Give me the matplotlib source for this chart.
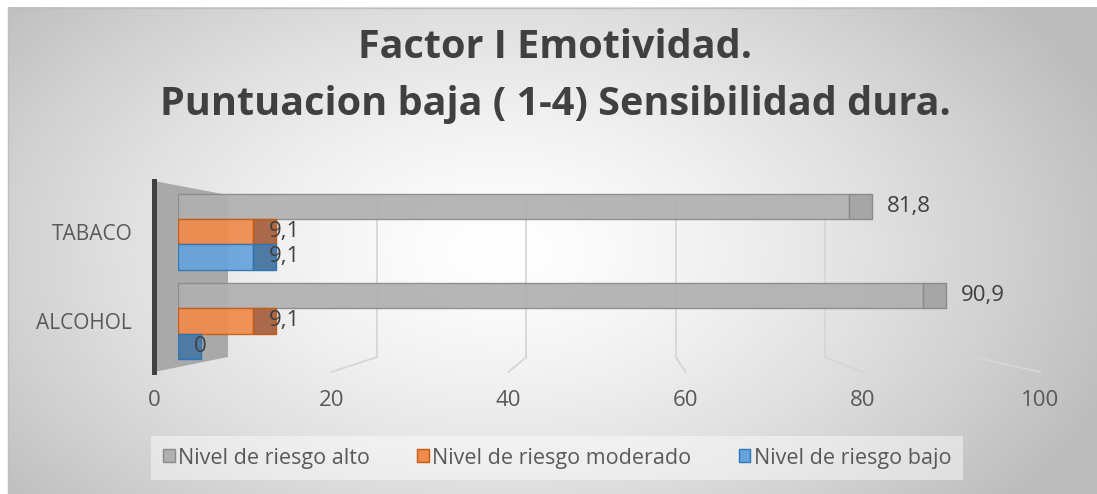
import numpy as np
import matplotlib.pyplot as plt
from matplotlib.patches import Patch, Polygon, Rectangle

categories = ["ALCOHOL", "TABACO"]
series_names = ["Nivel de riesgo alto", "Nivel de riesgo moderado", "Nivel de riesgo bajo"]
alto = [90.9, 81.8]
moderado = [9.1, 9.1]
bajo = [0.0, 9.1]
x_ticks = [0, 20, 40, 60, 80, 100]

plt.rcParams['font.family'] = ['Open Sans', 'DejaVu Sans']

W, H = 1097, 494
fig = plt.figure(figsize=(W / 100, H / 100), dpi=100)
fig.patch.set_facecolor('white')


def box(x0, y0, x1, y1):
    # pixel box (from top-left) -> figure fraction rect
    return [x0 / W, 1 - y1 / H, (x1 - x0) / W, (y1 - y0) / H]


# radial gradient background of the chart area
bg = fig.add_axes([0, 0, 1, 1], zorder=0)
yy, xx = np.mgrid[0:H, 0:W]
r = np.sqrt(((xx - 500) / 620) ** 2 + ((yy - 250) / 380) ** 2)
shade = 255 - 62 * np.clip(r, 0, 1.05) ** 1.4
shade[(xx < 8) | (yy < 8)] = 255
img = np.dstack([shade] * 3) / 255
bg.imshow(img, extent=(0, W, H, 0), aspect='auto', interpolation='bilinear')
bg.add_patch(Rectangle((8, 8), W, H, fill=False, edgecolor='#bfbfbf', lw=1))
bg.set_xlim(0, W)
bg.set_ylim(H, 0)
bg.axis('off')

# back wall (gridlines)
ax_back = fig.add_axes(box(228, 195, 974, 357), zorder=1)
ax_back.set_xlim(0, 100)
ax_back.set_ylim(0, 1)
ax_back.axis('off')
for v in x_ticks[1:]:
    ax_back.axvline(v, color='#d6d6d6', lw=1.3)

# front floor edge with tick labels and the dark axis line
ax_front = fig.add_axes(box(154, 181, 1040, 372), zorder=2)
ax_front.set_xlim(0, 100)
ax_front.set_ylim(0, 1)
ax_front.patch.set_alpha(0)
for s in ['top', 'right', 'bottom']:
    ax_front.spines[s].set_visible(False)
ax_front.spines['left'].set_linewidth(3.6)
ax_front.spines['left'].set_color('#404040')
ax_front.set_xticks(x_ticks)
ax_front.set_yticks([])
ax_front.tick_params(axis='x', length=0, pad=13, labelsize=16, labelcolor='#595959')


def to_front(pts):
    return ax_front.transData.inverted().transform(ax_back.transData.transform(pts))


back_top, back_bot = to_front([(0, 1), (0, 0)])
wall = Polygon([(0, 1), back_top, back_bot, (0, 0)], closed=True,
               facecolor='#a9a9a9', edgecolor='none', clip_on=False)
ax_front.add_patch(wall)
for v in x_ticks[1:]:
    p = to_front([(v, 0)])[0]
    ax_front.plot([p[0], v], [p[1], 0], color='#d6d6d6', lw=1.3, clip_on=False)

# bars
ax_bar = fig.add_axes(box(178, 180, 998, 372), zorder=3)
ax_bar.set_xlim(0, 100)
ax_bar.set_ylim(-0.573, 1.584)
ax_bar.patch.set_alpha(0)
for s in ax_bar.spines.values():
    s.set_visible(False)
ax_bar.set_xticks([])
ax_bar.set_yticks(range(len(categories)))
ax_bar.set_yticklabels(categories)
ax_bar.tick_params(axis='y', length=0, pad=33, labelsize=15, labelcolor='#595959')

bar_h = 0.281
cap = 2.8
styles = [
    (alto, bar_h, '#b0b0b0', '#8a8a8a', '#a6a6a6', 15),
    (moderado, 0.0, '#ef8b4c', '#c55a11', '#a9694a', -7),
    (bajo, -bar_h, '#66a3dc', '#2e75b6', '#4f7aa3', -7),
]
handles = []
for (vals, off, face, edge, capc, dx), name in zip(styles, series_names):
    ypos = np.arange(len(categories)) + off
    ax_bar.barh(ypos, vals, height=bar_h, color=face, edgecolor=edge, linewidth=1, alpha=0.92)
    ax_bar.barh(ypos, cap, left=vals, height=bar_h, color=capc, edgecolor=edge, linewidth=1)
    for yv, v in zip(ypos, vals):
        ax_bar.annotate(f"{v:g}".replace('.', ','), (v + cap, yv), xytext=(dx * 0.72, 0),
                        textcoords='offset points', va='center', ha='left',
                        fontsize=16, color='#404040', annotation_clip=False)
    handles.append(Patch(facecolor=face, edgecolor=edge, label=name))

fig.legend(handles=handles, loc='center', bbox_to_anchor=(557 / W, 1 - 458 / H), ncol=3,
           frameon=True, facecolor='white', edgecolor='none', framealpha=0.45, fancybox=False,
           fontsize=15.5, handlelength=0.55, handleheight=0.55, handletextpad=0.15,
           columnspacing=2.2, borderpad=0.55, labelcolor='#595959')

fig.text(555 / W, 1 - 58 / H, "Factor I Emotividad.", ha='center', va='baseline',
         fontsize=28.5, fontweight='bold', color='#404040')
fig.text(555 / W, 1 - 115 / H, "Puntuacion baja ( 1-4) Sensibilidad dura.", ha='center',
         va='baseline', fontsize=28.5, fontweight='bold', color='#404040')

fig.savefig('out.png', dpi=100)
